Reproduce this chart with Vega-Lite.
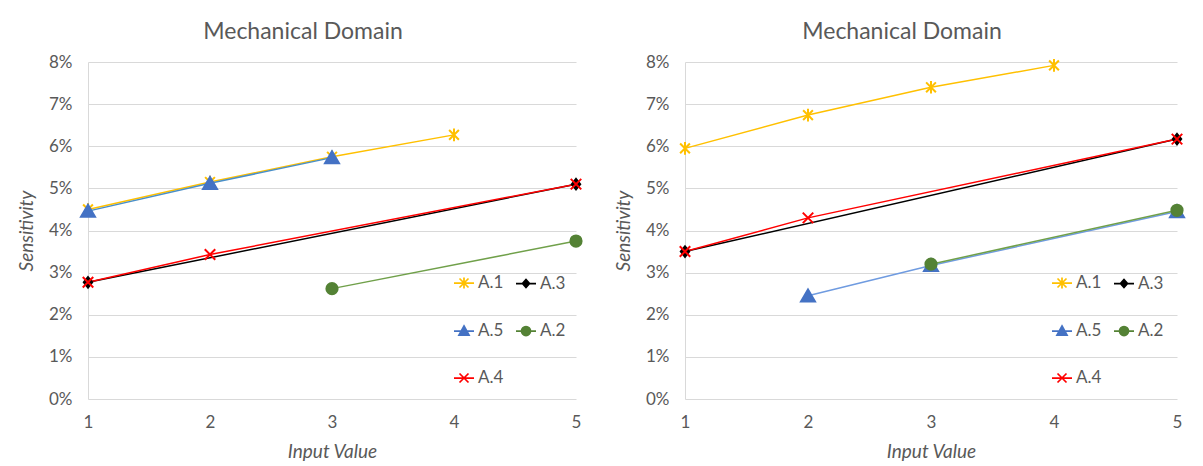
{
  "$schema": "https://vega.github.io/schema/vega-lite/v6.json",
  "background": "white",
  "padding": {"left": 17, "top": 21, "right": 5, "bottom": 5},
  "datasets": {
    "left": [
      {"series": "A.1", "input": 1, "sensitivity": 0.0450},
      {"series": "A.1", "input": 2, "sensitivity": 0.0515},
      {"series": "A.1", "input": 3, "sensitivity": 0.0575},
      {"series": "A.1", "input": 4, "sensitivity": 0.0627},
      {"series": "A.3", "input": 1, "sensitivity": 0.0277},
      {"series": "A.3", "input": 5, "sensitivity": 0.0510},
      {"series": "A.5", "input": 1, "sensitivity": 0.0446},
      {"series": "A.5", "input": 2, "sensitivity": 0.0512},
      {"series": "A.5", "input": 3, "sensitivity": 0.0573},
      {"series": "A.2", "input": 3, "sensitivity": 0.0262},
      {"series": "A.2", "input": 5, "sensitivity": 0.0375},
      {"series": "A.4", "input": 1, "sensitivity": 0.0277},
      {"series": "A.4", "input": 2, "sensitivity": 0.0343},
      {"series": "A.4", "input": 5, "sensitivity": 0.0510}
    ],
    "right": [
      {"series": "A.1", "input": 1, "sensitivity": 0.0595},
      {"series": "A.1", "input": 2, "sensitivity": 0.0674},
      {"series": "A.1", "input": 3, "sensitivity": 0.0740},
      {"series": "A.1", "input": 4, "sensitivity": 0.0792},
      {"series": "A.3", "input": 1, "sensitivity": 0.0350},
      {"series": "A.3", "input": 5, "sensitivity": 0.0617},
      {"series": "A.5", "input": 2, "sensitivity": 0.0245},
      {"series": "A.5", "input": 3, "sensitivity": 0.0317},
      {"series": "A.5", "input": 5, "sensitivity": 0.0445},
      {"series": "A.2", "input": 3, "sensitivity": 0.0320},
      {"series": "A.2", "input": 5, "sensitivity": 0.0448},
      {"series": "A.4", "input": 1, "sensitivity": 0.0350},
      {"series": "A.4", "input": 2, "sensitivity": 0.0430},
      {"series": "A.4", "input": 5, "sensitivity": 0.0617}
    ]
  },
  "spacing": 28,
  "hconcat": [
    {
      "title": {"text": "Mechanical Domain"},
      "width": 488,
      "height": 337,
      "data": {"name": "left"},
      "encoding": {
        "x": {"field": "input", "type": "quantitative", "scale": {"domain": [1, 5], "nice": false, "zero": false}, "axis": {"title": "Input Value", "values": [1, 2, 3, 4, 5]}},
        "y": {"field": "sensitivity", "type": "quantitative", "scale": {"domain": [0, 0.08], "nice": false}, "axis": {"title": "Sensitivity", "values": [0, 0.01, 0.02, 0.03, 0.04, 0.05, 0.06, 0.07, 0.08], "format": ".0%"}}
      },
      "layer": [
        {
          "transform": [{"filter": "datum.series !== 'A.2'"}],
          "mark": {"type": "line", "strokeWidth": 1.5},
          "encoding": {
            "stroke": {"field": "series", "type": "nominal", "legend": null, "scale": {"domain": ["A.1", "A.3", "A.5", "A.2", "A.4"], "range": ["#FFC000", "#000000", "#4a8fc8", "#70a04a", "#FF0000"]}}
          }
        },
        {
          "transform": [{"filter": "datum.series === 'A.2'"}],
          "mark": {"type": "line", "strokeWidth": 1.5},
          "encoding": {
            "stroke": {"field": "series", "type": "nominal", "legend": null, "scale": {"domain": ["A.1", "A.3", "A.5", "A.2", "A.4"], "range": ["#FFC000", "#000000", "#4a8fc8", "#70a04a", "#FF0000"]}}
          }
        },
        {
          "mark": {"type": "point", "filled": true, "opacity": 1, "size": 196, "strokeWidth": 2},
          "encoding": {
            "fill": {"field": "series", "type": "nominal", "legend": null, "scale": {"domain": ["A.1", "A.3", "A.5", "A.2", "A.4"], "range": ["#FFC000", "#000000", "#4472C4", "#548235", "#FF0000"]}},
            "stroke": {"field": "series", "type": "nominal", "legend": null, "scale": {"domain": ["A.1", "A.3", "A.5", "A.2", "A.4"], "range": ["#FFC000", "#000000", "#4472C4", "#548235", "#FF0000"]}},
            "shape": {"field": "series", "type": "nominal", "legend": null, "scale": {"domain": ["A.1", "A.3", "A.5", "A.2", "A.4"], "range": [
              "M-0.7,-0.7L0.7,0.7M-0.7,0.7L0.7,-0.7M0,-0.9L0,0.9",
              "M0,-0.75L0.6,0L0,0.75L-0.6,0Z",
              "M0,-0.9L1,0.8L-1,0.8Z",
              "M0.8,0A0.8,0.8 0 1,1 -0.8,0A0.8,0.8 0 1,1 0.8,0Z",
              "M-0.75,-0.75L0.75,0.75M-0.75,0.75L0.75,-0.75"
            ]}}
          }
        },
        {
          "transform": [{"filter": "false"}],
          "mark": {"type": "point", "filled": true, "opacity": 1},
          "encoding": {
            "fill": {"field": "series", "type": "nominal", "scale": {"domain": ["A.1", "A.3", "A.5", "A.2", "A.4"], "range": ["#FFC000", "#000000", "#4472C4", "#548235", "#FF0000"]},
              "legend": {"direction": "horizontal", "title": null, "orient": "none", "legendX": 365, "legendY": 210, "columns": 2, "rowPadding": 28, "columnPadding": 8, "symbolSize": 400, "symbolStrokeWidth": 1.75, "labelOffset": 3, "labelFontSize": 17, "labelColor": "#595959", "labelFont": "Lato"}},
            "stroke": {"field": "series", "type": "nominal", "scale": {"domain": ["A.1", "A.3", "A.5", "A.2", "A.4"], "range": ["#FFC000", "#000000", "#4472C4", "#548235", "#FF0000"]},
              "legend": {"direction": "horizontal", "title": null, "orient": "none", "legendX": 365, "legendY": 210, "columns": 2, "rowPadding": 28, "columnPadding": 8, "symbolSize": 400, "symbolStrokeWidth": 1.75, "labelOffset": 3, "labelFontSize": 17, "labelColor": "#595959", "labelFont": "Lato"}},
            "shape": {"field": "series", "type": "nominal", "scale": {"domain": ["A.1", "A.3", "A.5", "A.2", "A.4"], "range": [
              "M-1,0L1,0M-0.45,-0.45L0.45,0.45M-0.45,0.45L0.45,-0.45M0,-0.55L0,0.55",
              "M-1,0L1,0M0,-0.4L0.35,0L0,0.4L-0.35,0Z",
              "M-1,0L1,0M0,-0.5L0.5,0.4L-0.5,0.4Z",
              "M-1,0L1,0M0.45,0A0.45,0.45 0 1,1 -0.45,0A0.45,0.45 0 1,1 0.45,0Z",
              "M-1,0L1,0M-0.45,-0.45L0.45,0.45M-0.45,0.45L0.45,-0.45"
            ]},
              "legend": {"direction": "horizontal", "title": null, "orient": "none", "legendX": 365, "legendY": 210, "columns": 2, "rowPadding": 28, "columnPadding": 8, "symbolSize": 400, "symbolStrokeWidth": 1.75, "labelOffset": 3, "labelFontSize": 17, "labelColor": "#595959", "labelFont": "Lato"}}
          }
        }
      ],
      "resolve": {"scale": {"fill": "independent", "stroke": "independent", "shape": "independent"}}
    },
    {
      "title": {"text": "Mechanical Domain"},
      "width": 492,
      "height": 337,
      "data": {"name": "right"},
      "encoding": {
        "x": {"field": "input", "type": "quantitative", "scale": {"domain": [1, 5], "nice": false, "zero": false}, "axis": {"title": "Input Value", "values": [1, 2, 3, 4, 5]}},
        "y": {"field": "sensitivity", "type": "quantitative", "scale": {"domain": [0, 0.08], "nice": false}, "axis": {"title": "Sensitivity", "values": [0, 0.01, 0.02, 0.03, 0.04, 0.05, 0.06, 0.07, 0.08], "format": ".0%"}}
      },
      "layer": [
        {
          "transform": [{"filter": "datum.series !== 'A.2'"}],
          "mark": {"type": "line", "strokeWidth": 1.5},
          "encoding": {
            "stroke": {"field": "series", "type": "nominal", "legend": null, "scale": {"domain": ["A.1", "A.3", "A.5", "A.2", "A.4"], "range": ["#FFC000", "#000000", "#6f9be0", "#70a04a", "#FF0000"]}}
          }
        },
        {
          "transform": [{"filter": "datum.series === 'A.2'"}],
          "mark": {"type": "line", "strokeWidth": 1.5},
          "encoding": {
            "stroke": {"field": "series", "type": "nominal", "legend": null, "scale": {"domain": ["A.1", "A.3", "A.5", "A.2", "A.4"], "range": ["#FFC000", "#000000", "#6f9be0", "#70a04a", "#FF0000"]}}
          }
        },
        {
          "mark": {"type": "point", "filled": true, "opacity": 1, "size": 196, "strokeWidth": 2},
          "encoding": {
            "fill": {"field": "series", "type": "nominal", "legend": null, "scale": {"domain": ["A.1", "A.3", "A.5", "A.2", "A.4"], "range": ["#FFC000", "#000000", "#4472C4", "#548235", "#FF0000"]}},
            "stroke": {"field": "series", "type": "nominal", "legend": null, "scale": {"domain": ["A.1", "A.3", "A.5", "A.2", "A.4"], "range": ["#FFC000", "#000000", "#4472C4", "#548235", "#FF0000"]}},
            "shape": {"field": "series", "type": "nominal", "legend": null, "scale": {"domain": ["A.1", "A.3", "A.5", "A.2", "A.4"], "range": [
              "M-0.7,-0.7L0.7,0.7M-0.7,0.7L0.7,-0.7M0,-0.9L0,0.9",
              "M0,-0.75L0.6,0L0,0.75L-0.6,0Z",
              "M0,-0.9L1,0.8L-1,0.8Z",
              "M0.8,0A0.8,0.8 0 1,1 -0.8,0A0.8,0.8 0 1,1 0.8,0Z",
              "M-0.75,-0.75L0.75,0.75M-0.75,0.75L0.75,-0.75"
            ]}}
          }
        },
        {
          "transform": [{"filter": "false"}],
          "mark": {"type": "point", "filled": true, "opacity": 1},
          "encoding": {
            "fill": {"field": "series", "type": "nominal", "scale": {"domain": ["A.1", "A.3", "A.5", "A.2", "A.4"], "range": ["#FFC000", "#000000", "#4472C4", "#548235", "#FF0000"]},
              "legend": {"direction": "horizontal", "title": null, "orient": "none", "legendX": 366, "legendY": 210, "columns": 2, "rowPadding": 28, "columnPadding": 8, "symbolSize": 400, "symbolStrokeWidth": 1.75, "labelOffset": 3, "labelFontSize": 17, "labelColor": "#595959", "labelFont": "Lato"}},
            "stroke": {"field": "series", "type": "nominal", "scale": {"domain": ["A.1", "A.3", "A.5", "A.2", "A.4"], "range": ["#FFC000", "#000000", "#4472C4", "#548235", "#FF0000"]},
              "legend": {"direction": "horizontal", "title": null, "orient": "none", "legendX": 366, "legendY": 210, "columns": 2, "rowPadding": 28, "columnPadding": 8, "symbolSize": 400, "symbolStrokeWidth": 1.75, "labelOffset": 3, "labelFontSize": 17, "labelColor": "#595959", "labelFont": "Lato"}},
            "shape": {"field": "series", "type": "nominal", "scale": {"domain": ["A.1", "A.3", "A.5", "A.2", "A.4"], "range": [
              "M-1,0L1,0M-0.45,-0.45L0.45,0.45M-0.45,0.45L0.45,-0.45M0,-0.55L0,0.55",
              "M-1,0L1,0M0,-0.4L0.35,0L0,0.4L-0.35,0Z",
              "M-1,0L1,0M0,-0.5L0.5,0.4L-0.5,0.4Z",
              "M-1,0L1,0M0.45,0A0.45,0.45 0 1,1 -0.45,0A0.45,0.45 0 1,1 0.45,0Z",
              "M-1,0L1,0M-0.45,-0.45L0.45,0.45M-0.45,0.45L0.45,-0.45"
            ]},
              "legend": {"direction": "horizontal", "title": null, "orient": "none", "legendX": 366, "legendY": 210, "columns": 2, "rowPadding": 28, "columnPadding": 8, "symbolSize": 400, "symbolStrokeWidth": 1.75, "labelOffset": 3, "labelFontSize": 17, "labelColor": "#595959", "labelFont": "Lato"}}
          }
        }
      ],
      "resolve": {"scale": {"fill": "independent", "stroke": "independent", "shape": "independent"}}
    }
  ],
  "config": {
    "font": "Lato",
    "view": {"stroke": null},
    "title": {"fontSize": 23, "fontWeight": "normal", "color": "#595959", "font": "Lato", "anchor": "middle", "dx": -29, "offset": 9},
    "axis": {"labelColor": "#595959", "labelFontSize": 17, "titleColor": "#595959", "titleFontSize": 19, "titleFontStyle": "italic", "titleFontWeight": "normal", "ticks": false, "gridColor": "#d9d9d9", "gridWidth": 1, "labelFont": "Lato", "titleFont": "Lato"},
    "axisY": {"domainColor": "#d9d9d9", "labelPadding": 16, "titlePadding": 12},
    "axisX": {"domain": false, "grid": false, "labelPadding": 15, "titlePadding": 12, "labelFlush": false}
  }
}
